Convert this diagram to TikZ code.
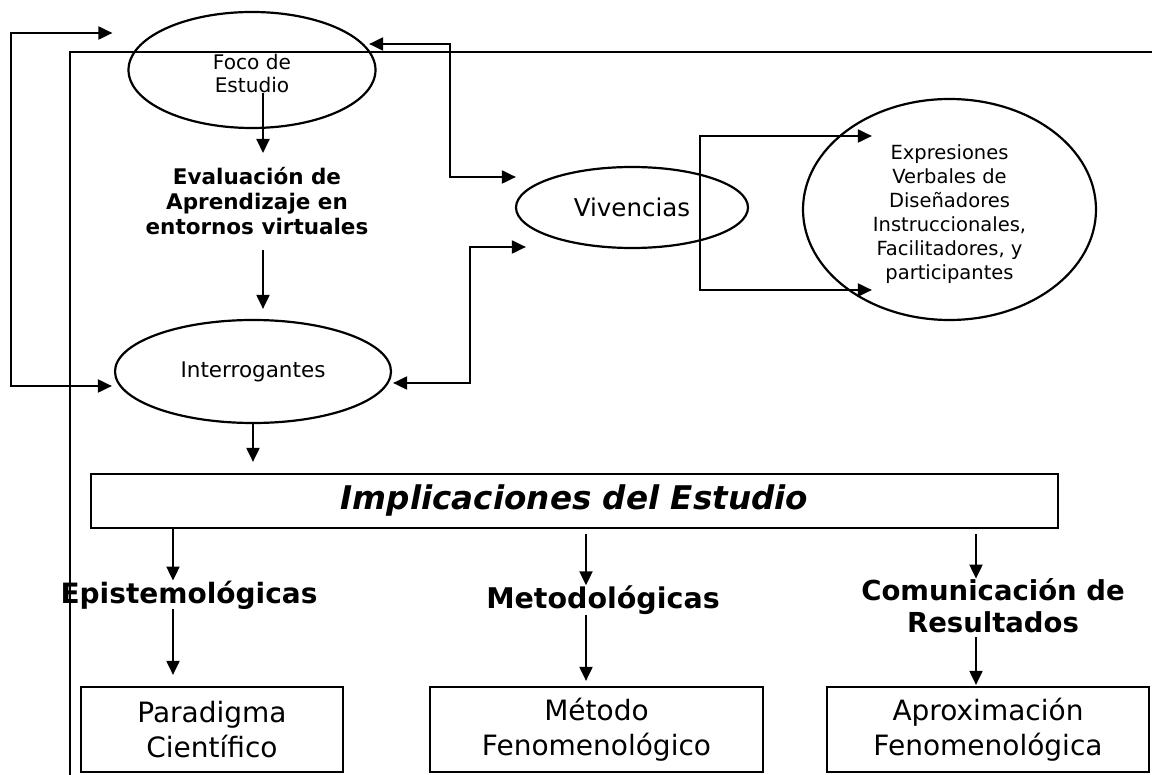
\documentclass[tikz,border=0pt]{standalone}
\usepackage{fontspec}
\setmainfont{DejaVu Sans}
\usetikzlibrary{arrows.meta,shapes.geometric}

\begin{document}
\begin{tikzpicture}[x=1pt,y=-1pt,
	oval/.style={draw, ellipse, line width=2.2pt, inner sep=0pt, align=center},
	caja/.style={draw, rectangle, line width=2.2pt, inner sep=0pt, align=center},
	etiq/.style={inner sep=0pt, align=center},
	flecha/.style={line width=2pt, -{Triangle[length=14pt,width=13pt]}},
	flechados/.style={line width=2pt, {Triangle[length=14pt,width=13pt]}-{Triangle[length=14pt,width=13pt]}},
	linea/.style={line width=1.5pt}]
	\useasboundingbox (0,0) rectangle (1152,775);

	\node[oval, minimum width=247, minimum height=116,
		label={[etiq, yshift=-4pt, font=\fontsize{20.1}{23}\selectfont]center:Foco de\\Estudio}] (foco) at (252,70) {};
	\node[etiq, font=\bfseries\fontsize{21.5}{25}\selectfont] (eval) at (257,201) {Evaluación de\\Aprendizaje en\\entornos virtuales};
	\node[oval, minimum width=276, minimum height=103, font=\fontsize{21.5}{25}\selectfont] (interr) at (253,371.5) {Interrogantes};
	\node[oval, minimum width=232, minimum height=81, font=\fontsize{24.5}{28}\selectfont] (viv) at (632,207.5) {Vivencias};
	\node[oval, minimum width=293, minimum height=221,
		label={[etiq, yshift=-5pt, font=\fontsize{19.5}{24}\selectfont]center:Expresiones\\Verbales de\\Diseñadores\\Instruccionales,\\Facilitadores, y\\participantes}] (expr) at (949.5,209.5) {};

	\node[caja, minimum width=967, minimum height=54, font=\bfseries\itshape\fontsize{32.6}{36}\selectfont] (impl) at (574.5,501) {Implicaciones del Estudio};

	\node[etiq, font=\bfseries\fontsize{28}{32}\selectfont] (epist) at (189,595) {Epistemológicas};
	\node[etiq, font=\bfseries\fontsize{28.5}{32}\selectfont] (metod) at (603,600) {Metodológicas};
	\node[etiq, font=\bfseries\fontsize{27.5}{32}\selectfont] (comun) at (993,606) {Comunicación de\\Resultados};

	\node[caja, minimum width=262, minimum height=85, font=\fontsize{28}{35}\selectfont] (parad) at (212,729.5) {Paradigma\\Científico};
	\node[caja, minimum width=333, minimum height=85, font=\fontsize{28}{35}\selectfont] (metodo) at (596.5,729.5) {Método\\Fenomenológico};
	\node[caja, minimum width=322, minimum height=85, font=\fontsize{28}{35}\selectfont] (aprox) at (988,729.5) {Aproximación\\Fenomenológica};

	\coordinate (abajo) at (70,775);
	\coordinate (derecha) at (1152,52);
	\draw[linea] (abajo) |- (derecha);

	\draw[flecha] ([shift={(11,23)}]foco.center) -- ([shift={(11,83)}]foco.center);
	\draw[flecha, shorten <=15pt, shorten >=10pt] ([xshift=6pt]eval.south) -- ([xshift=6pt]eval.south |- interr.north);
	\draw[flecha, shorten >=11pt] (interr.south) -- (interr.south |- impl.north);

	\draw[flecha] ([xshift=-16pt]epist.north |- impl.south) -- ([xshift=-16pt]epist.north);
	\draw[flecha, shorten >=11pt] ([xshift=-16pt]epist.south) -- ([xshift=-16pt]epist.south |- parad.north);
	\draw[flecha, shorten <=5pt] ([xshift=-17pt]metod.north |- impl.south) -- ([xshift=-17pt]metod.north);
	\draw[flecha, shorten >=5pt] ([xshift=-17pt]metod.south) -- ([xshift=-17pt]metod.south |- metodo.north);
	\draw[flecha, shorten <=5pt] ([xshift=-17pt]comun.north |- impl.south) -- ([xshift=-17pt]comun.north);
	\draw[flecha, shorten <=4pt, shorten >=1pt] ([xshift=-17pt]comun.south) -- ([xshift=-17pt]comun.south |- aprox.north);

	\draw[flechados] ([shift={(-15,-37)}]foco.west) -- ++(-101,0) |- ([shift={(-2,14.5)}]interr.west);
	\draw[flechados] ([shift={(-7.5,-26)}]foco.east) -- ++(81,0) |- ([shift={(1,-30.5)}]viv.west);
	\draw[flechados] ([shift={(11,39.5)}]viv.west) -- ++(-56,0) |- ([shift={(1,11.5)}]interr.east);
	\draw[flechados] ([shift={(70,-73.5)}]expr.west) -- ++(-172,0) |- ([shift={(70,80.5)}]expr.west);
\end{tikzpicture}
\end{document}
